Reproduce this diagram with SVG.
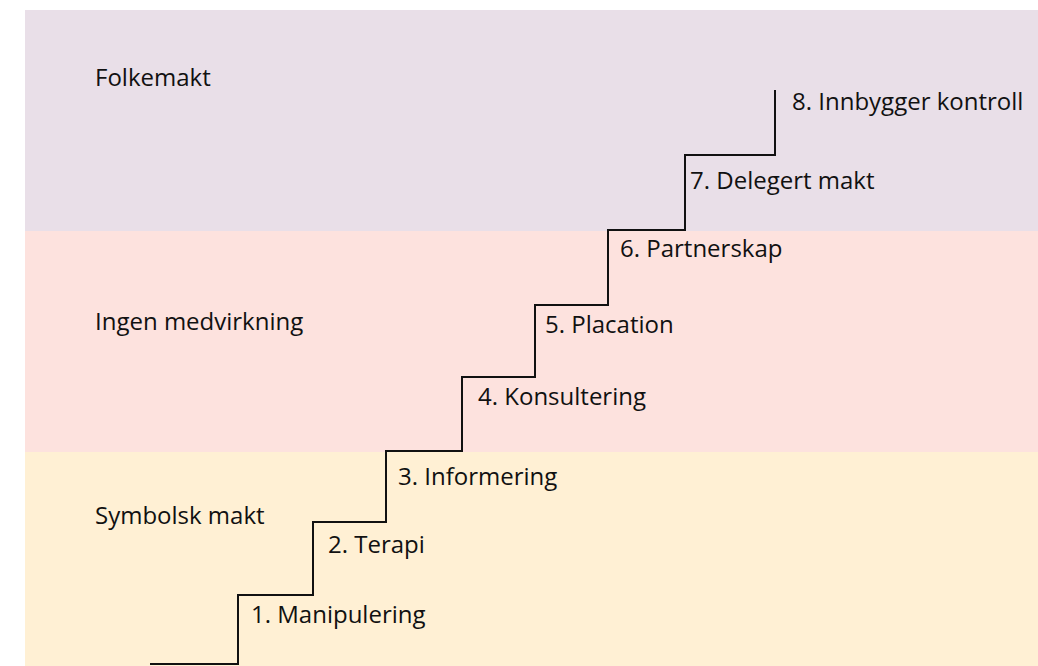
<svg xmlns="http://www.w3.org/2000/svg" width="1038" height="666" viewBox="0 0 1038 666">
<style>
text{font-family:"Open Sans","Noto Sans",sans-serif;font-size:24px;fill:#111}
.stair{fill:none;stroke:#111;stroke-width:2}
</style>
<rect width="1038" height="666" fill="#fff"/>
<g id="band-folkemakt"><rect x="25" y="10" width="1013" height="221" fill="#e9dfe8"/><text x="95" y="86">Folkemakt</text></g>
<g id="band-ingen"><rect x="25" y="231" width="1013" height="221" fill="#fde2de"/><text x="95" y="330">Ingen medvirkning</text></g>
<g id="band-symbolsk"><rect x="25" y="452" width="1013" height="214" fill="#fff0d4"/><text x="95" y="524">Symbolsk makt</text></g>
<g id="connectors"><path class="stair" d="M150 664H238V595H313V522H386V451H462V377H535V305H608V230H685V155H775V90"/></g>
<g id="step1"><text x="251" y="623">1. Manipulering</text></g>
<g id="step2"><text x="328" y="553">2. Terapi</text></g>
<g id="step3"><text x="398" y="485">3. Informering</text></g>
<g id="step4"><text x="478" y="405">4. Konsultering</text></g>
<g id="step5"><text x="545" y="333">5. Placation</text></g>
<g id="step6"><text x="620" y="257">6. Partnerskap</text></g>
<g id="step7"><text x="690" y="189">7. Delegert makt</text></g>
<g id="step8"><text x="792" y="110">8. Innbygger kontroll</text></g>
</svg>
